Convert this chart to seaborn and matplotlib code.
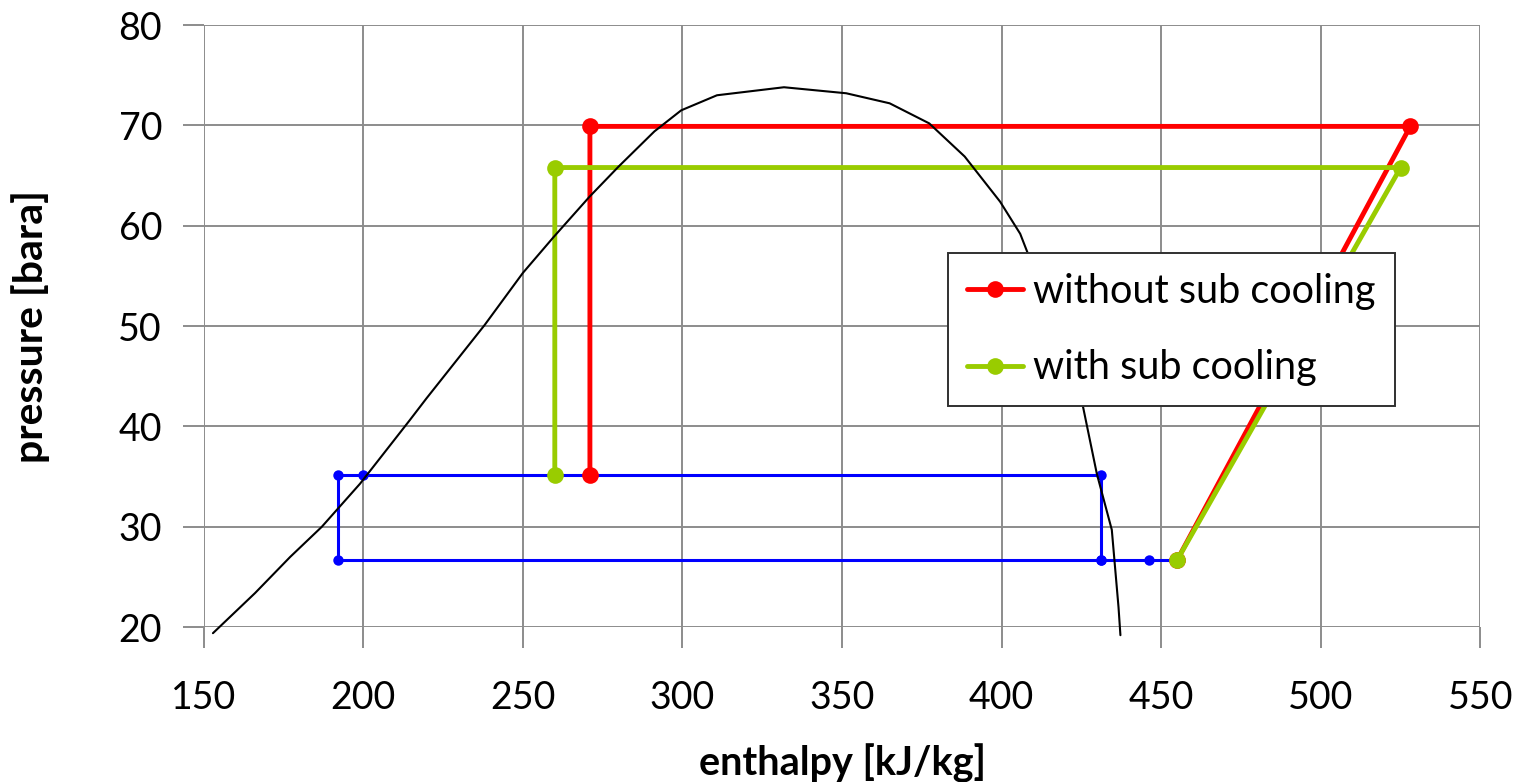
import numpy as np
import pandas as pd
import matplotlib.pyplot as plt
import seaborn as sns

# saturation dome
dome_h = [152.9, 166.1, 177.1, 187.0, 199.0, 214.5, 219.8, 238.0, 250.0, 259.7, 270.9, 280.0,
          291.2, 299.6, 310.8, 331.8, 351.3, 364.9, 377.3, 388.4, 399.5, 405.8, 408.0, 415.5,
          420.6, 425.2, 429.8, 434.5, 436.6, 437.2]
dome_p = [19.4, 23.4, 27.0, 30.0, 34.3, 40.6, 42.8, 50.1, 55.3, 58.9, 62.9, 65.9,
          69.4, 71.5, 73.0, 73.8, 73.2, 72.2, 70.2, 66.9, 62.4, 59.2, 57.4, 52.0,
          47.0, 42.4, 35.3, 29.7, 22.0, 19.2]

# cycle without sub cooling
red_h = [455, 528, 271, 271]
red_p = [26.7, 69.9, 69.9, 35.2]

# cycle with sub cooling
green_h = [455, 525, 260, 260]
green_p = [26.7, 65.8, 65.8, 35.2]

# sub cooler / low stage loop
blue_h = [455, 446, 431, 192, 192, 200, 431, 431]
blue_p = [26.7, 26.7, 26.7, 26.7, 35.2, 35.2, 35.2, 26.7]

xticks = [150, 200, 250, 300, 350, 400, 450, 500, 550]
yticks = [20, 30, 40, 50, 60, 70, 80]

sns.set_style('white')
plt.rcParams['font.family'] = ['Lato', 'DejaVu Sans']
plt.rcParams['text.color'] = 'black'
plt.rcParams['axes.labelcolor'] = 'black'

fig = plt.figure(figsize=(15.2, 7.82), dpi=100)
ax = fig.add_axes([0.134, 0.198, 0.840, 0.770])

grey = '#8c8c8c'

blue = pd.DataFrame({'h': blue_h, 'p': blue_p})
sns.lineplot(data=blue, x='h', y='p', sort=False, estimator=None, color='#0000ff',
             linewidth=2.2, marker='o', markersize=7.5, markeredgewidth=0, ax=ax, zorder=3)

red = pd.DataFrame({'h': red_h, 'p': red_p})
sns.lineplot(data=red, x='h', y='p', sort=False, estimator=None, color='#ff0000',
             linewidth=3.5, marker='o', markersize=12, markeredgewidth=0, ax=ax, zorder=4,
             label='without sub cooling')

green = pd.DataFrame({'h': green_h, 'p': green_p})
sns.lineplot(data=green, x='h', y='p', sort=False, estimator=None, color='#99cc00',
             linewidth=3.5, marker='o', markersize=12, markeredgewidth=0, ax=ax, zorder=5,
             label='with sub cooling')

dome = pd.DataFrame({'h': dome_h, 'p': dome_p})
sns.lineplot(data=dome, x='h', y='p', sort=False, estimator=None, color='black',
             linewidth=1.5, ax=ax, zorder=6, clip_on=False)

ax.set_xlim(150, 550)
ax.set_ylim(20, 80)
ax.set_xticks(xticks)
ax.set_yticks(yticks)
ax.grid(True, color=grey, linewidth=1.4)
for s in ax.spines.values():
    s.set_visible(False)
ax.tick_params(axis='both', which='major', length=15, width=1.4, color=grey,
               labelcolor='black', labelsize=27, direction='out', left=True, bottom=True)
ax.tick_params(axis='x', pad=23)
ax.tick_params(axis='y', pad=15)

ax.set_xlabel('enthalpy [kJ/kg]', fontsize=28.5, fontweight='bold', labelpad=20)
ax.set_ylabel('pressure [bara]', fontsize=29.5, fontweight='bold', labelpad=49)

leg = ax.legend(loc='upper left', bbox_to_anchor=(0.5826, 0.6213), borderaxespad=0,
                fontsize=28.5, frameon=True, fancybox=False, edgecolor='#303030',
                framealpha=1, borderpad=0.5, labelspacing=1.0, handlelength=1.4,
                handletextpad=0.25)
leg.get_frame().set_linewidth(1.4)
leg.set_zorder(10)

fig.savefig('out.png', dpi=100)
